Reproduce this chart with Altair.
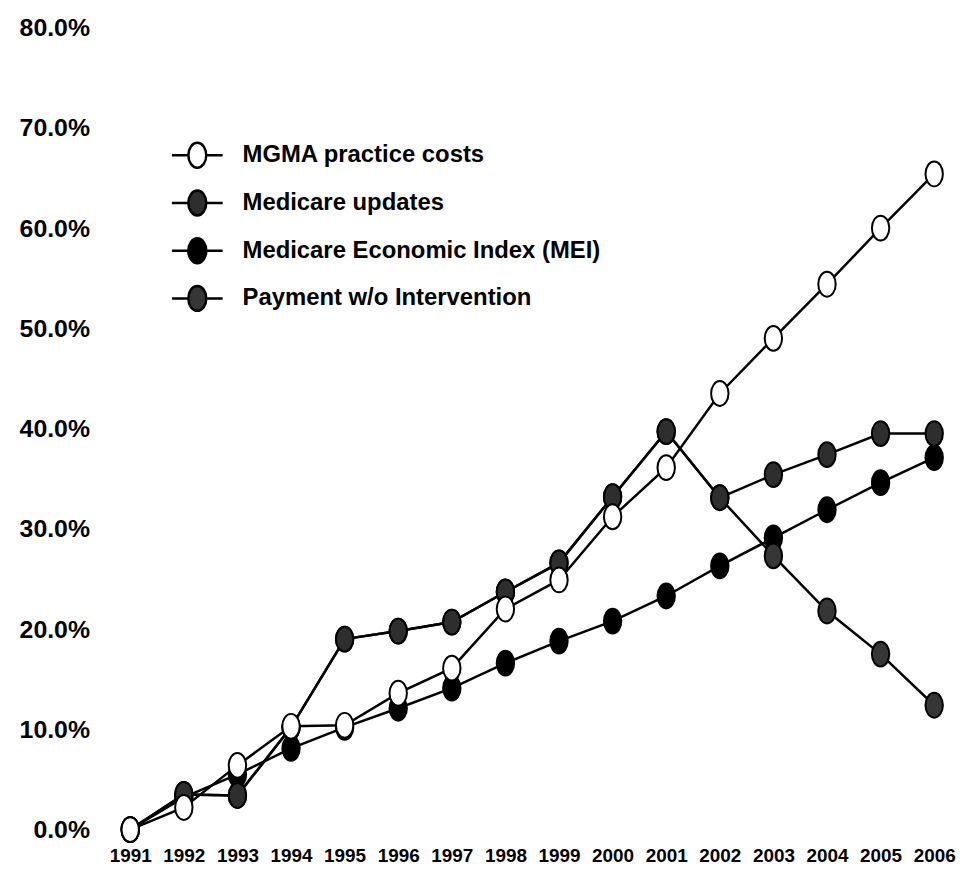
import altair as alt
import pandas as pd

# ---- data ----
years = list(range(1991, 2007))
mgma = [0.0, 2.2, 6.4, 10.3, 10.4, 13.6, 16.1, 22.0, 24.9, 31.2, 36.1, 43.5, 49.0, 54.4, 60.0, 65.4]
updates = [0.0, 3.5, 3.4, 10.2, 19.0, 19.8, 20.7, 23.7, 26.6, 33.2, 39.7, 33.1, 35.4, 37.4, 39.5, 39.5]
mei = [0.0, 3.2, 5.5, 8.1, 10.2, 12.1, 14.1, 16.6, 18.8, 20.8, 23.3, 26.3, 29.1, 31.9, 34.6, 37.1]
payment = [0.0, 3.5, 3.4, 10.2, 19.0, 19.8, 20.7, 23.7, 26.6, 33.2, 39.7, 33.1, 27.3, 21.8, 17.5, 12.4]

series_names = ["MGMA practice costs", "Medicare updates",
                "Medicare Economic Index (MEI)", "Payment w/o Intervention"]
series_values = [mgma, updates, mei, payment]
fills = ["white", "#2e2e2e", "black", "#363636"]
draw_order = [4, 3, 1, 2]
y_ticks = [0, 10, 20, 30, 40, 50, 60, 70, 80]

rows = []
for name, vals, z in zip(series_names, series_values, draw_order):
    for yr, v in zip(years, vals):
        rows.append({"year": yr, "value": v, "series": name, "z": z})
df = pd.DataFrame(rows)

FONT = "Liberation Sans"

marker_path = "M-0.7,0 A0.7,1 0 1,0 0.7,0 A0.7,1 0 1,0 -0.7,0 Z"
legend_path = ("M-1.16,0 L-0.41,0 M0.41,0 L1.16,0 "
               "M-0.41,0 A0.41,0.57 0 1,0 0.41,0 A0.41,0.57 0 1,0 -0.41,0 Z")

x_enc = alt.X("year:Q",
              scale=alt.Scale(domain=[1991, 2006], nice=False, zero=False),
              axis=alt.Axis(values=years, labelExpr="format(datum.value, 'd')",
                            title=None, domain=False, ticks=False, grid=False,
                            labelFont=FONT, labelFontSize=19, labelFontWeight="bold",
                            labelColor="black", labelPadding=17, labelOverlap=False,
                            labelFlush=False))
y_enc = alt.Y("value:Q",
              scale=alt.Scale(domain=[0, 80], nice=False),
              axis=alt.Axis(values=y_ticks, labelExpr="format(datum.value, '.1f') + '%'",
                            title=None, domain=False, ticks=False, grid=False,
                            labelFont=FONT, labelFontSize=25, labelFontWeight="bold",
                            labelColor="black", labelPadding=41, labelFlush=False))

lines = alt.Chart(df).mark_line(color="black", strokeWidth=2.5).encode(
    x=x_enc, y=y_enc, detail="series:N"
)

points = alt.Chart(df).mark_point(
    shape=marker_path, size=625, filled=True, stroke="black", strokeWidth=2, opacity=1
).encode(
    x=x_enc, y=y_enc,
    fill=alt.Fill("series:N",
                  scale=alt.Scale(domain=series_names, range=fills),
                  legend=alt.Legend(
                      title=None, orient="none", legendX=44, legendY=105,
                      symbolType=legend_path, symbolSize=1936,
                      symbolStrokeColor="black", symbolStrokeWidth=2.5,
                      symbolOpacity=1, padding=0, rowPadding=6,
                      labelOffset=22, labelFont=FONT, labelFontSize=24,
                      labelFontWeight="bold", labelColor="black", labelLimit=600)),
    order=alt.Order("z:Q")
)

chart = alt.layer(lines, points).properties(
    width=809, height=807,
    padding={"left": 123, "top": 17, "right": 30, "bottom": 40},
    autosize=alt.AutoSizeParams(type="none"),
    background="white",
).configure_view(stroke=None)

chart.save("out.html", embed_options={"renderer": "svg", "actions": False})
